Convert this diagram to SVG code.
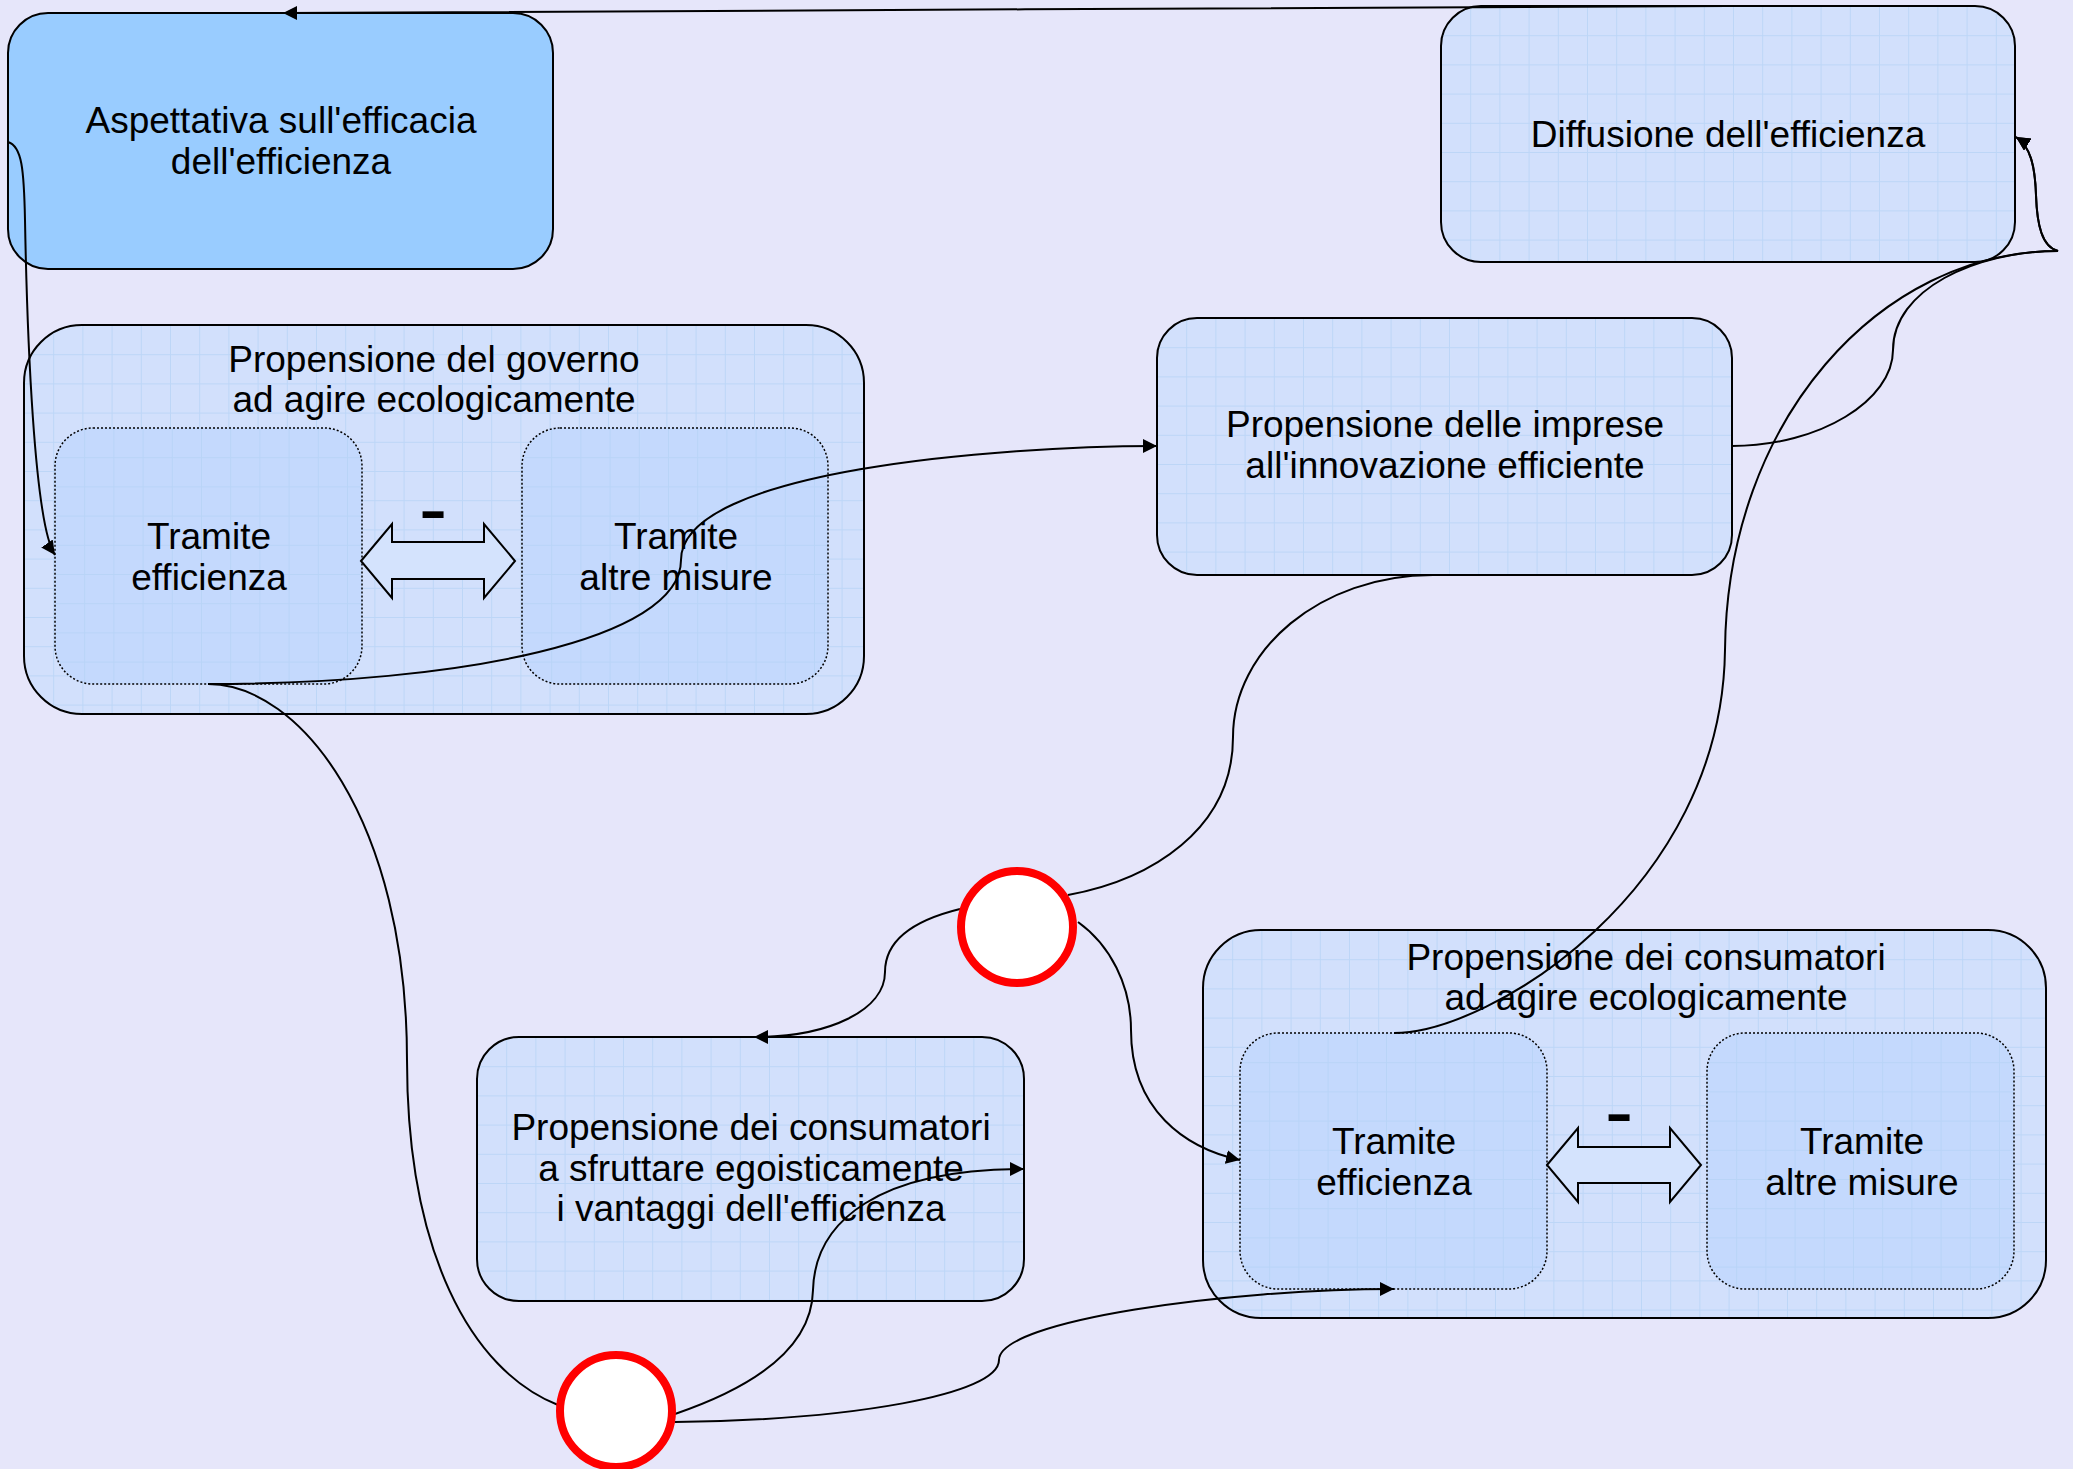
<svg xmlns="http://www.w3.org/2000/svg" width="2073" height="1469" viewBox="0 0 2073 1469">
<defs>
<pattern id="grid" width="29.2" height="29.2" patternUnits="userSpaceOnUse">
<path d="M0.5,0 V29.2 M0,0.5 H29.2" stroke="#b4d2f6" stroke-width="1" fill="none" opacity="0.7"/>
</pattern>
<marker id="arr" markerWidth="15" markerHeight="14" refX="14" refY="7" orient="auto" markerUnits="userSpaceOnUse">
<path d="M0,0 L14,7 L0,14 z" fill="#000"/>
</marker>
</defs>
<style>
.bg{fill:#e6e6fa}
.outer{fill:#d2e0fc;stroke:#000;stroke-width:2}
.inner{fill:#c4d9fd;stroke:#000;stroke-width:1.5;stroke-dasharray:2,2}
.solid{fill:#99ccff;stroke:#000;stroke-width:2}
.gridfill{fill:url(#grid);stroke:none}
.t{font-family:"Liberation Sans",Arial,sans-serif;font-size:37px;fill:#000;text-anchor:middle}
.minus{font-family:"Liberation Sans",Arial,sans-serif;font-size:86px;fill:#000;text-anchor:middle}
.dbl{fill:#d4e3fd;stroke:#000;stroke-width:2;stroke-linejoin:miter}
.c{fill:none;stroke:#000;stroke-width:2}
.ca{fill:none;stroke:#000;stroke-width:2;marker-end:url(#arr)}
.circ{fill:#fff;stroke:#ff0000;stroke-width:8}
</style>
<rect class="bg" x="0" y="0" width="2073" height="1469"/>

<g id="aspettativa">
<rect class="solid" x="8" y="13" width="545" height="256" rx="40" ry="40"/>
<text class="t" x="281" y="133">Aspettativa sull'efficacia</text>
<text class="t" x="281" y="174">dell'efficienza</text>
</g>

<g id="diffusione">
<g transform="translate(1441,6)">
<rect class="outer" x="0" y="0" width="574" height="256" rx="40" ry="40"/>
<rect class="gridfill" x="1" y="1" width="572" height="254" rx="39" ry="39"/>
</g>
<text class="t" x="1728" y="147">Diffusione dell'efficienza</text>
</g>

<g id="governo">
<g transform="translate(24,325)">
<rect class="outer" x="0" y="0" width="840" height="389" rx="58" ry="58"/>
<rect class="gridfill" x="1" y="1" width="838" height="387" rx="57" ry="57"/>
</g>
<text class="t" x="434" y="372">Propensione del governo</text>
<text class="t" x="434" y="412">ad agire ecologicamente</text>
<g id="governo-efficienza">
<g transform="translate(55,428)">
<rect class="inner" x="0" y="0" width="307" height="256" rx="38" ry="38"/>
<rect class="gridfill" x="1" y="1" width="305" height="254" rx="37" ry="37"/>
</g>
<text class="t" x="209" y="549">Tramite</text>
<text class="t" x="209" y="590">efficienza</text>
</g>
<g id="governo-altre">
<g transform="translate(522,428)">
<rect class="inner" x="0" y="0" width="306" height="256" rx="38" ry="38"/>
<rect class="gridfill" x="1" y="1" width="304" height="254" rx="37" ry="37"/>
</g>
<text class="t" x="676" y="549">Tramite</text>
<text class="t" x="676" y="590">altre misure</text>
</g>
<g id="governo-opposizione">
<polygon class="dbl" points="361,561 392,524 392,542 484,542 484,524 515,561 484,598 484,579 392,579 392,598"/>
<text class="minus" x="433" y="537">-</text>
</g>
</g>

<g id="imprese">
<g transform="translate(1157,318)">
<rect class="outer" x="0" y="0" width="575" height="257" rx="40" ry="40"/>
<rect class="gridfill" x="1" y="1" width="573" height="255" rx="39" ry="39"/>
</g>
<text class="t" x="1445" y="437">Propensione delle imprese</text>
<text class="t" x="1445" y="478">all'innovazione efficiente</text>
</g>

<g id="egoismo">
<g transform="translate(477,1037)">
<rect class="outer" x="0" y="0" width="547" height="264" rx="42" ry="42"/>
<rect class="gridfill" x="1" y="1" width="545" height="262" rx="41" ry="41"/>
</g>
<text class="t" x="751" y="1140">Propensione dei consumatori</text>
<text class="t" x="751" y="1181">a sfruttare egoisticamente</text>
<text class="t" x="751" y="1221">i vantaggi dell'efficienza</text>
</g>

<g id="consumatori">
<g transform="translate(1203,930)">
<rect class="outer" x="0" y="0" width="843" height="388" rx="58" ry="58"/>
<rect class="gridfill" x="1" y="1" width="841" height="386" rx="57" ry="57"/>
</g>
<text class="t" x="1646" y="970">Propensione dei consumatori</text>
<text class="t" x="1646" y="1010">ad agire ecologicamente</text>
<g id="consumatori-efficienza">
<g transform="translate(1240,1033)">
<rect class="inner" x="0" y="0" width="307" height="256" rx="38" ry="38"/>
<rect class="gridfill" x="1" y="1" width="305" height="254" rx="37" ry="37"/>
</g>
<text class="t" x="1394" y="1154">Tramite</text>
<text class="t" x="1394" y="1195">efficienza</text>
</g>
<g id="consumatori-altre">
<g transform="translate(1707,1033)">
<rect class="inner" x="0" y="0" width="307" height="256" rx="38" ry="38"/>
<rect class="gridfill" x="1" y="1" width="305" height="254" rx="37" ry="37"/>
</g>
<text class="t" x="1862" y="1154">Tramite</text>
<text class="t" x="1862" y="1195">altre misure</text>
</g>
<g id="consumatori-opposizione">
<polygon class="dbl" points="1547,1165 1578,1128 1578,1147 1670,1147 1670,1128 1701,1165 1670,1202 1670,1183 1578,1183 1578,1202"/>
<text class="minus" x="1619" y="1140">-</text>
</g>
</g>

<g id="connectors">
<path class="ca" d="M1728,6 C1300,6 700,13 283,13"/>
<path class="ca" d="M8,142 C22,146 24,170 25,220 C27,330 34,525 55,555"/>
<path class="ca" d="M208,684 C460,684 681,640 681,560 C681,470 1000,446 1157,446"/>
<path class="c" d="M208,684 C300,684 407,820 407,1060 C407,1250 470,1370 558,1405"/>
<path class="ca" d="M1732,446 C1820,446 1893,400 1893,350 C1893,290 1975,251 2058,251 C2042,247 2037,225 2036,195 C2035,165 2030,146 2016,137"/>
<path class="ca" d="M1394,1033 C1490,1033 1722,890 1725,650 C1727,420 1880,251 2058,251 C2042,247 2037,225 2036,195 C2035,165 2030,146 2016,137"/>
<path class="c" d="M1433,575 C1320,575 1233,650 1233,737 C1233,830 1150,880 1068,895"/>
<path class="ca" d="M960,909 C915,920 885,940 885,972 C885,1010 830,1037 754,1037"/>
<path class="ca" d="M1078,922 C1110,945 1131,985 1131,1030 C1131,1110 1185,1148 1240,1160"/>
<path class="ca" d="M675,1414 C760,1385 812,1345 813,1290 C815,1220 880,1169 1024,1169"/>
<path class="ca" d="M675,1422 C850,1420 999,1395 999,1360 C999,1320 1230,1289 1394,1289"/>
</g>

<g id="nodo-imprese">
<circle class="circ" cx="1017" cy="927" r="56"/>
</g>
<g id="nodo-governo">
<circle class="circ" cx="616" cy="1411" r="56"/>
</g>
</svg>
